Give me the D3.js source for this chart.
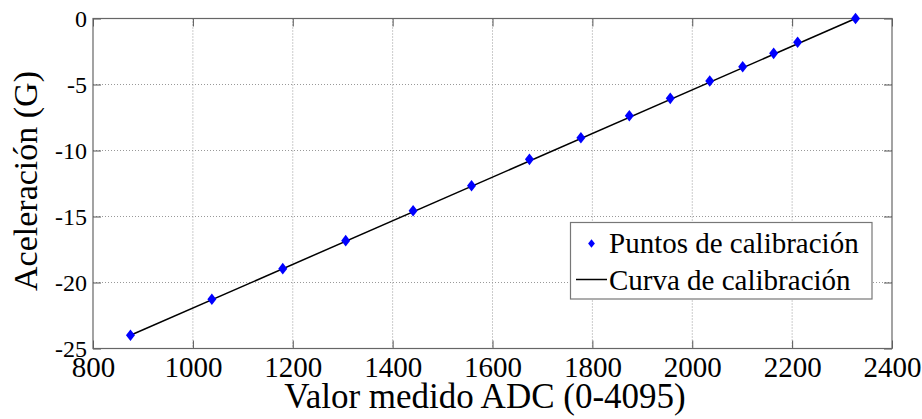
<!DOCTYPE html>
<html>
<head>
  <meta charset='utf-8'>
  <script src='https://d3js.org/d3.v7.min.js'></script>
  <style>
    body {
      margin: 0;
      background: #fff;
    }
    svg text {
      font-family: 'Liberation Serif', 'Times New Roman', serif;
      fill: #000;
    }
    .grid line {
      stroke: #999;
      stroke-dasharray: 1, 2;
    }
  </style>
</head>
<body>
  <script>
// calibration points
const adcValues = [875, 1038, 1180, 1306, 1441, 1558, 1674, 1777, 1874, 1956, 2035, 2101, 2163, 2211, 2327];
const accelValues = [-24.0, -21.27, -18.95, -16.83, -14.56, -12.67, -10.67, -9.03, -7.37, -6.05, -4.73, -3.65, -2.64, -1.80, 0.0];

// fitted calibration line, its two end points
const curveX = [875, 2327];
const curveY = [-24.0, 0.0];

const xTicks = [800, 1000, 1200, 1400, 1600, 1800, 2000, 2200, 2400];
const yTicks = [0, -5, -10, -15, -20, -25];

const legendLabels = ['Puntos de calibración', 'Curva de calibración'];

const width = 922,
  height = 419,
  margin = {top: 18.5, right: 30, bottom: 70.5, left: 93},
  innerWidth = width - margin.left - margin.right,
  innerHeight = height - margin.top - margin.bottom;

const serif = "'Liberation Serif', 'Times New Roman', serif";

const svg = d3.select('body').append('svg')
  .attr('width', width)
  .attr('height', height)
  .attr('font-family', serif);

const g = svg.append('g')
  .attr('transform', `translate(${margin.left},${margin.top})`);

const x = d3.scaleLinear().domain([800, 2400]).range([0, innerWidth]);
const y = d3.scaleLinear().domain([-25, 0]).range([innerHeight, 0]);

// dotted grid
g.append('g').attr('class', 'grid')
  .selectAll('line')
  .data(xTicks.slice(1, -1))
  .enter().append('line')
  .attr('x1', d => x(d)).attr('x2', d => x(d))
  .attr('y1', 0).attr('y2', innerHeight);

g.append('g').attr('class', 'grid')
  .selectAll('line')
  .data(yTicks.slice(1, -1))
  .enter().append('line')
  .attr('x1', 0).attr('x2', innerWidth)
  .attr('y1', d => y(d)).attr('y2', d => y(d));

// axes, ticks pointing inward
const tickLen = 8;
const plain = d => String(d);

const xAxis = g.append('g')
  .attr('transform', `translate(0,${innerHeight})`)
  .call(d3.axisBottom(x).tickValues(xTicks).tickFormat(plain).tickSize(-tickLen).tickSizeOuter(0));
xAxis.attr('font-family', serif).attr('font-size', 29);
xAxis.selectAll('text').attr('y', 8).attr('dy', '0.71em');

const xAxisTop = g.append('g')
  .call(d3.axisTop(x).tickValues(xTicks).tickSize(-tickLen).tickSizeOuter(0));
xAxisTop.selectAll('text').remove();

const yAxis = g.append('g')
  .call(d3.axisLeft(y).tickValues(yTicks).tickFormat(plain).tickSize(-tickLen).tickSizeOuter(0));
yAxis.attr('font-family', serif).attr('font-size', 24);
yAxis.selectAll('text').attr('x', -6).attr('dy', '0.33em');

const yAxisRight = g.append('g')
  .attr('transform', `translate(${innerWidth},0)`)
  .call(d3.axisRight(y).tickValues(yTicks).tickSize(-tickLen).tickSizeOuter(0));
yAxisRight.selectAll('text').remove();

g.selectAll('.domain').remove();
g.selectAll('.tick line').attr('stroke', '#555');

g.append('rect')
  .attr('width', innerWidth)
  .attr('height', innerHeight)
  .attr('fill', 'none')
  .attr('stroke', '#666')
  .attr('stroke-width', 1.2);

// calibration curve
const line = d3.line().x(d => x(d[0])).y(d => y(d[1]));
g.append('path')
  .datum(curveX.map((v, i) => [v, curveY[i]]))
  .attr('d', line)
  .attr('fill', 'none')
  .attr('stroke', '#000')
  .attr('stroke-width', 1.5);

// diamond markers
const diamond = (w, h) => `M0,${-h}L${w},0L0,${h}L${-w},0Z`;
g.append('g')
  .selectAll('path')
  .data(adcValues.map((v, i) => [v, accelValues[i]]))
  .enter().append('path')
  .attr('transform', d => `translate(${x(d[0])},${y(d[1])})`)
  .attr('d', diamond(4.5, 5.8))
  .attr('fill', '#0000ff');

// axis titles
svg.append('text')
  .attr('x', 485)
  .attr('y', 408)
  .attr('text-anchor', 'middle')
  .attr('font-size', 35)
  .text('Valor medido ADC (0-4095)');

svg.append('text')
  .attr('transform', 'translate(37,181) rotate(-90)')
  .attr('text-anchor', 'middle')
  .attr('font-size', 34)
  .text('Aceleración (G)');

// legend
const legend = svg.append('g');
legend.append('rect')
  .attr('x', 570.5).attr('y', 222.5)
  .attr('width', 301.5).attr('height', 76.5)
  .attr('fill', '#fff')
  .attr('stroke', '#777')
  .attr('stroke-width', 1.2);

legend.append('path')
  .attr('transform', 'translate(591.5,243.5)')
  .attr('d', diamond(3.4, 4.3))
  .attr('fill', '#0000ff');

legend.append('line')
  .attr('x1', 576).attr('x2', 607)
  .attr('y1', 279.5).attr('y2', 279.5)
  .attr('stroke', '#000')
  .attr('stroke-width', 1.5);

legend.selectAll('text.lab')
  .data(legendLabels)
  .enter().append('text')
  .attr('class', 'lab')
  .attr('x', 609)
  .attr('y', (d, i) => 253 + i * 37)
  .attr('font-size', 29)
  .text(d => d);
  </script>
</body>
</html>
